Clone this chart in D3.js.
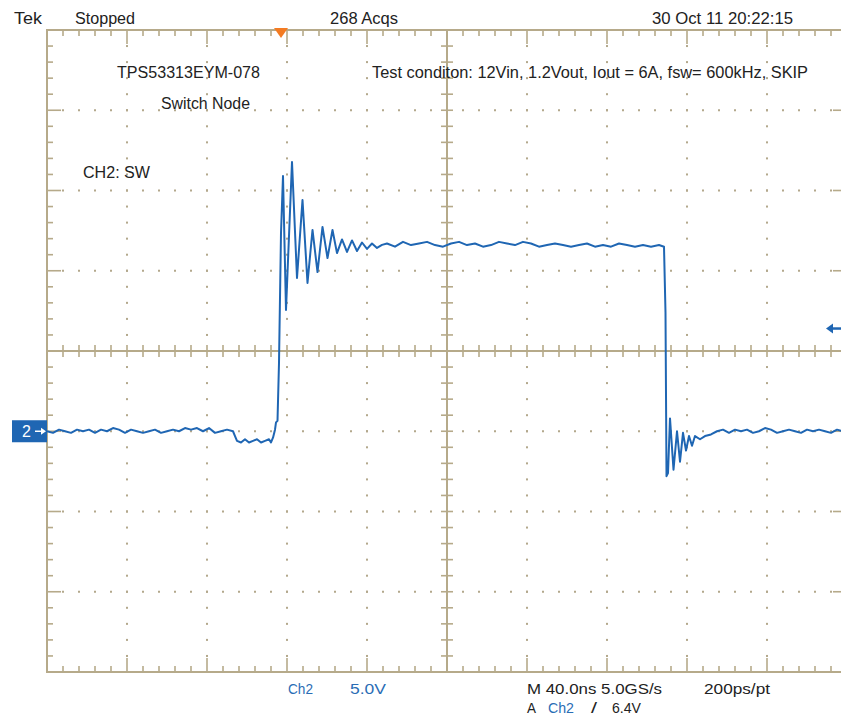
<!DOCTYPE html>
<html>
<head>
<meta charset="utf-8">
<script src="https://cdn.jsdelivr.net/npm/d3@7"></script>
<style>
html,body{margin:0;padding:0;background:#fff;}
svg{display:block;}
</style>
</head>
<body>
<svg id="chart" width="841" height="728"></svg>
<script>
// ---------------- DATA ----------------
// time in ns from the left edge of the graticule (40 ns/div), CH2 volts (5 V/div)
const lowTime  = [0,3,6,9,12,15,18,21,24,27,30,33,36,39,42,45,48,51,54,57,60,63,66,69,72,75,78,81,84,87,90,93];
const lowVolts = [0.0,-0.1,0.1,0.0,-0.1,0.1,0.0,0.1,-0.1,0.1,0.0,0.2,0.1,-0.1,0.1,0.0,-0.1,0.0,0.1,-0.1,0.0,0.1,0.0,0.2,0.1,0.2,0.0,0.2,-0.1,0.0,0.1,0.0];

const deadTime  = [94,95,97,99,101,103,105,107,109,111,112,113];
const deadVolts = [-0.3,-0.6,-0.7,-0.5,-0.7,-0.6,-0.5,-0.7,-0.6,-0.5,-0.7,-0.4];

const riseTime  = [114,114.5,115.25,116,117,118,119.5,122.5,125,127.75,130.25,132.75,135.25,137.75,140.25,142.75,145,147.5,150,152.5,155,157.5,160,162.5,165,167.5];
const riseVolts = [0.1,0.55,0.65,4.25,12.35,15.9,7.55,16.78,9.55,14.41,9.24,12.54,9.92,12.73,10.79,12.54,11.1,11.95,11.17,11.89,11.23,11.76,11.36,11.7,11.42,11.61];

const highTime  = [170,174,178,182,186,190,194,198,202,206,210,214,218,222,226,230,234,238,242,246,250,254,258,262,266,270,274,278,282,286,290,294,298,302,306];
const highVolts = [11.7,11.5,11.8,11.6,11.7,11.8,11.6,11.5,11.7,11.8,11.6,11.7,11.5,11.6,11.8,11.7,11.6,11.8,11.7,11.5,11.6,11.7,11.6,11.5,11.6,11.7,11.5,11.6,11.5,11.7,11.6,11.5,11.6,11.5,11.6];

const fallTime  = [308.5,309.25,309.75,310.5,311.5,313.25,315,316.5,318,319.5,321,322.5,324,326.5,329,332];
const fallVolts = [11.5,7.4,-2.8,-2.6,0.8,-2.4,0.0,-1.9,-0.1,-1.2,-0.3,-0.9,-0.3,-0.5,-0.3,-0.2];

const tailTime  = [335,338,341,344,347,350,353,356,359,362,365,368,371,374,377,380,383,386,389,392,395,398,400];
const tailVolts = [0.0,0.1,-0.1,0.1,0.0,0.1,-0.1,0.0,0.2,0.1,-0.1,0.0,0.1,0.0,-0.1,0.1,0.0,0.1,0.0,-0.1,0.1,0.0,0.0];

// graticule divisions
const timeDivisions = [0,40,80,120,160,200,240,280,320,360,400];
const voltDivisions = [-15,-10,-5,0,5,10,15,20,25];
const centerTime = 200, centerVolt = 5;
const triggerTime = 117, triggerLevel = 6.4, groundLevel = 0;

// ---------------- SCALES ----------------
const x = d3.scaleLinear().domain([0, 400]).range([47, 847]);
const y = d3.scaleLinear().domain([-15, 25]).range([672, 30]);

const svg = d3.select("#chart");
const frameColor = "#b6aa8a";
const dotColor = "#b3a88c";
const traceColor = "#1f66b3";

const minorT = d3.range(0, 400.001, 8);
const minorV = d3.range(-15, 25.001, 1);
const isMajorT = t => Math.abs(t / 40 - Math.round(t / 40)) < 1e-6;
const isMajorV = v => Math.abs(v / 5 - Math.round(v / 5)) < 1e-6;

// dotted grid lines
const dots = svg.append("g");
timeDivisions.filter(t => t > 0 && t < 400 && t !== centerTime).forEach(t => {
  minorV.forEach(v => dots.append("rect").attr("x", x(t) - 1).attr("y", y(v) - 1)
    .attr("width", 2).attr("height", 2).attr("fill", dotColor));
});
voltDivisions.filter(v => v > -15 && v < 25 && v !== centerVolt).forEach(v => {
  minorT.forEach(t => dots.append("rect").attr("x", x(t) - 1).attr("y", y(v) - 1)
    .attr("width", 2).attr("height", 2).attr("fill", dotColor));
});

// frame + center cross
const g = svg.append("g").attr("stroke", frameColor).attr("fill", "none");
g.append("rect").attr("x", x(0)).attr("y", y(25)).attr("width", x(400) - x(0)).attr("height", y(-15) - y(25))
  .attr("stroke-width", 2);
g.append("line").attr("x1", x(centerTime)).attr("x2", x(centerTime)).attr("y1", y(25)).attr("y2", y(-15)).attr("stroke-width", 2);
g.append("line").attr("x1", x(0)).attr("x2", x(400)).attr("y1", y(centerVolt)).attr("y2", y(centerVolt)).attr("stroke-width", 2);

const tk = svg.append("g").attr("stroke", frameColor).attr("stroke-width", 1.6);
minorT.filter(t => t > 0 && t < 400).forEach(t => {
  const len = isMajorT(t) ? 14 : 6;
  tk.append("line").attr("x1", x(t)).attr("x2", x(t)).attr("y1", y(25)).attr("y2", y(25) + len);
  tk.append("line").attr("x1", x(t)).attr("x2", x(t)).attr("y1", y(-15)).attr("y2", y(-15) - len);
  if (t !== centerTime)
    tk.append("line").attr("x1", x(t)).attr("x2", x(t)).attr("y1", y(centerVolt) - 6).attr("y2", y(centerVolt) + 6);
});
minorV.filter(v => v > -15 && v < 25).forEach(v => {
  const len = isMajorV(v) ? 14 : 6;
  tk.append("line").attr("x1", x(0)).attr("x2", x(0) + len).attr("y1", y(v)).attr("y2", y(v));
  tk.append("line").attr("x1", x(400)).attr("x2", x(400) - len).attr("y1", y(v)).attr("y2", y(v));
  if (v !== centerVolt)
    tk.append("line").attr("x1", x(centerTime) - 6).attr("x2", x(centerTime) + 6).attr("y1", y(v)).attr("y2", y(v));
});

// ---------------- TRACE ----------------
const timeNs = [].concat(lowTime, deadTime, riseTime, highTime, fallTime, tailTime);
const ch2Volts = [].concat(lowVolts, deadVolts, riseVolts, highVolts, fallVolts, tailVolts);
const pts = timeNs.map((t, i) => [t, ch2Volts[i]]);
svg.append("path").datum(pts)
  .attr("d", d3.line().x(d => x(d[0])).y(d => y(d[1])))
  .attr("fill", "none").attr("stroke", traceColor).attr("stroke-width", 2)
  .attr("stroke-linejoin", "round");

// ---------------- MARKERS ----------------
// trigger position (orange)
const tx = x(triggerTime), ty = y(25);
svg.append("path").attr("d", `M${tx - 7},${ty - 2}L${tx + 7},${ty - 2}L${tx},${ty + 8}Z`).attr("fill", "#f47b22");
// trigger level arrow (right)
const ly = y(triggerLevel);
svg.append("line").attr("x1", 830).attr("x2", 841).attr("y1", ly).attr("y2", ly).attr("stroke", traceColor).attr("stroke-width", 2.5);
svg.append("path").attr("d", `M826,${ly}L833,${ly - 5}L833,${ly + 5}Z`).attr("fill", traceColor);
// ground marker "2"
const gy = y(groundLevel);
svg.append("rect").attr("x", 12).attr("y", gy - 11).attr("width", 35).attr("height", 22).attr("fill", "#1f66b3");
svg.append("text").attr("x", 22).attr("y", gy + 6).attr("fill", "#fff")
  .attr("font-family", "Liberation Sans, Arial, sans-serif").attr("font-size", 16).text("2");
svg.append("line").attr("x1", 35).attr("x2", 43).attr("y1", gy).attr("y2", gy).attr("stroke", "#fff").attr("stroke-width", 1.5);
svg.append("path").attr("d", `M46,${gy}L41,${gy - 3.5}L41,${gy + 3.5}Z`).attr("fill", "#fff");

// ---------------- TEXT ----------------
const labels = [
  {t: "Tek", x: 14, y: 24, w: 28, c: "#222", s: 16},
  {t: "Stopped", x: 75, y: 24, w: 60, c: "#222", s: 16},
  {t: "268 Acqs", x: 330, y: 24, w: 68, c: "#222", s: 16},
  {t: "30 Oct 11 20:22:15", x: 652, y: 24, w: 141, c: "#222", s: 16},
  {t: "TPS53313EYM-078", x: 117, y: 78, w: 143, c: "#222", s: 16},
  {t: "Switch Node", x: 161, y: 109, w: 89, c: "#222", s: 16},
  {t: "Test conditon: 12Vin, 1.2Vout, Iout = 6A, fsw= 600kHz, SKIP", x: 372, y: 78, w: 436, c: "#222", s: 16},
  {t: "CH2: SW", x: 83, y: 178, w: 67, c: "#222", s: 16},
  {t: "Ch2", x: 288, y: 694, w: 25, c: "#2a6db5", s: 15},
  {t: "5.0V", x: 350, y: 694, w: 36, c: "#2a6db5", s: 15},
  {t: "M 40.0ns 5.0GS/s", x: 527, y: 694, w: 135, c: "#222", s: 15},
  {t: "200ps/pt", x: 704, y: 694, w: 66, c: "#222", s: 15},
  {t: "A", x: 527, y: 713, w: 9, c: "#222", s: 15},
  {t: "Ch2", x: 548, y: 713, w: 26, c: "#2a6db5", s: 15},
  {t: "/", x: 591, y: 713, w: 6, c: "#222", s: 15},
  {t: "6.4V", x: 612, y: 713, w: 29, c: "#222", s: 15}
];
svg.append("g").selectAll("text").data(labels).join("text")
  .attr("x", d => d.x).attr("y", d => d.y)
  .attr("fill", d => d.c)
  .attr("font-family", "Liberation Sans, Arial, sans-serif")
  .attr("font-size", d => d.s)
  .attr("textLength", d => d.w)
  .attr("lengthAdjust", "spacingAndGlyphs")
  .text(d => d.t);
</script>
</body>
</html>
